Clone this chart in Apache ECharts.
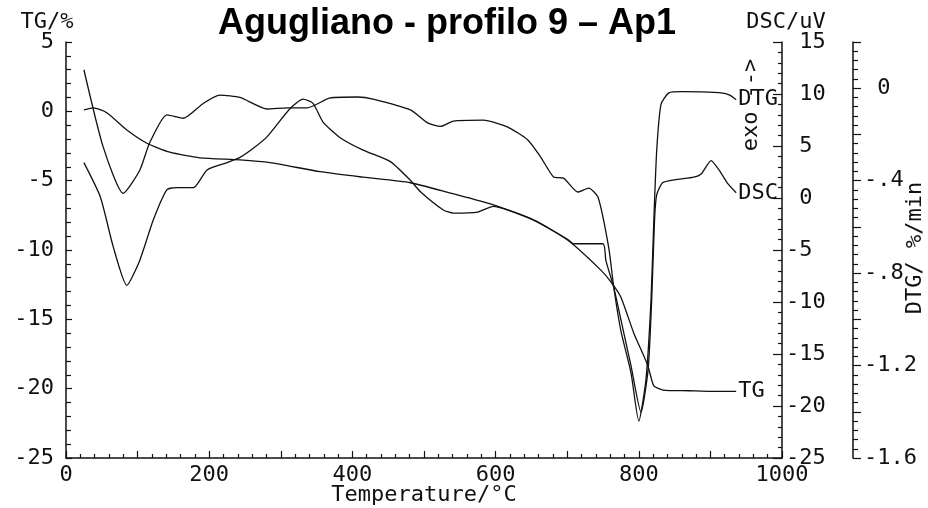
<!DOCTYPE html>
<html>
<head>
<meta charset="utf-8">
<title>Agugliano - profilo 9 – Ap1</title>
<script src="https://cdn.jsdelivr.net/npm/echarts@6/dist/echarts.min.js"></script>
<style>
  html, body { margin: 0; padding: 0; background: #fff; }
  #chart { width: 928px; height: 508px; }
</style>
</head>
<body>
<div id="chart"></div>
<script>
// TG curve (% mass), temperatures in °C
const tgTemp = [25, 38, 57, 85, 113, 145, 187, 243, 285, 355, 415, 481, 537, 597, 653, 701, 747, 761, 775, 793, 805, 813, 821, 834, 870, 901, 936]
const tgVal = [0.1, 0.25, -0.1, -1.35, -2.3, -2.95, -3.35, -3.5, -3.7, -4.35, -4.75, -5.15, -5.9, -6.75, -7.85, -9.3, -11.45, -12.3, -13.4, -16.0, -17.4, -18.4, -19.8, -20.1, -20.15, -20.2, -20.2]

// DSC curve (uV)
const dscTemp = [25, 48, 66, 85, 103, 122, 141, 155, 178, 197, 225, 243, 262, 281, 313, 331, 345, 359, 383, 415, 453, 481, 495, 527, 541, 575, 597, 617, 653, 677, 701, 709, 750, 754, 765, 775, 789, 803, 813, 818, 822, 825, 834, 877, 887, 901, 912, 924, 936]
const dscVal = [3.4, 0.1, -4.7, -8.4, -6.0, -2.1, 0.8, 1.0, 1.0, 2.7, 3.4, 3.9, 4.8, 5.9, 8.6, 9.5, 9.1, 7.3, 5.8, 4.6, 3.5, 1.7, 0.6, -1.15, -1.45, -1.35, -0.8, -1.15, -2.1, -3.0, -4.0, -4.4, -4.4, -6.0, -8.6, -11.7, -16.1, -20.6, -16.5, -9.8, -2.1, 0.3, 1.5, 2.0, 2.3, 3.6, 2.7, 1.4, 0.5]

// DTG curve (%/min)
const dtgTemp = [25, 52, 80, 103, 117, 141, 164, 192, 215, 243, 281, 309, 337, 369, 407, 429, 481, 505, 523, 541, 583, 617, 645, 663, 681, 695, 715, 730, 743, 758, 765, 775, 789, 800, 810, 817, 821, 825, 831, 842, 860, 887, 915, 927, 936]
const dtgVal = [0.08, -0.255, -0.455, -0.355, -0.235, -0.115, -0.13, -0.065, -0.03, -0.04, -0.09, -0.085, -0.085, -0.042, -0.038, -0.047, -0.094, -0.15, -0.165, -0.142, -0.138, -0.168, -0.224, -0.298, -0.384, -0.389, -0.449, -0.432, -0.471, -0.69, -0.86, -1.05, -1.23, -1.44, -1.26, -0.92, -0.57, -0.27, -0.07, -0.02, -0.015, -0.016, -0.02, -0.03, -0.05]

const mono = 'DejaVu Sans Mono'
const ink = '#111'

function zip(xs, ys) {
  return xs.map((x, i) => [x, ys[i]])
}

const axisLine = { show: true, onZero: false, lineStyle: { color: ink, width: 1.5 } }
const labelStyle = { fontFamily: mono, fontSize: 22, color: ink }
const endLabel = { show: true, formatter: '{a}', distance: 2, fontFamily: mono, fontSize: 22, color: ink }

function caption(text, x, y, rotated) {
  return {
    type: 'text',
    x: x,
    y: y,
    rotation: rotated ? Math.PI / 2 : 0,
    style: { text: text, fontFamily: mono, fontSize: 22, fill: ink, align: 'center', verticalAlign: 'middle' }
  }
}

const chart = echarts.init(document.getElementById('chart'), null, { renderer: 'canvas' })

const option = {
  animation: false,
  backgroundColor: '#fff',
  title: {
    text: 'Agugliano - profilo 9 – Ap1',
    left: 213,
    top: 1,
    textStyle: { fontFamily: 'Liberation Sans', fontWeight: 'bold', fontSize: 36, color: '#000' }
  },
  grid: {
    left: 66,
    right: 146,
    top: 42,
    bottom: 50,
    containLabel: false,
    outerBoundsMode: 'none'
  },
  xAxis: {
    type: 'value',
    min: 0,
    max: 1000,
    interval: 100,
    axisLine: axisLine,
    axisTick: { inside: true, length: 7, lineStyle: { color: ink, width: 1.2 } },
    minorTick: { show: true, splitNumber: 5, length: 4, lineStyle: { color: ink, width: 1.2 } },
    splitLine: { show: false },
    axisLabel: Object.assign({
      margin: 6,
      formatter: v => (v % 200 === 0 ? String(v) : '')
    }, labelStyle)
  },
  yAxis: [
    {
      // TG/%
      type: 'value',
      position: 'left',
      min: -25,
      max: 5,
      interval: 5,
      axisLine: axisLine,
      axisTick: { inside: true, length: 6, lineStyle: { color: ink, width: 1.2 } },
      minorTick: { show: true, splitNumber: 5, length: 5, lineStyle: { color: ink, width: 1.2 } },
      splitLine: { show: false },
      axisLabel: Object.assign({ margin: 12 }, labelStyle)
    },
    {
      // DSC/uV
      type: 'value',
      position: 'right',
      min: -25,
      max: 15,
      interval: 5,
      axisLine: axisLine,
      axisTick: { inside: true, length: 9, lineStyle: { color: ink, width: 1.2 } },
      minorTick: { show: true, splitNumber: 5, length: 4, lineStyle: { color: ink, width: 1.2 } },
      splitLine: { show: false },
      axisLabel: Object.assign({
        margin: 4,
        formatter: v => (v >= 0 ? ' ' : '') + v
      }, labelStyle)
    },
    {
      // DTG/ %/min
      type: 'value',
      position: 'right',
      offset: 71,
      min: -1.6,
      max: 0.2,
      interval: 0.2,
      axisLine: axisLine,
      axisTick: { inside: false, length: 8, lineStyle: { color: ink, width: 1.2 } },
      minorTick: { show: true, splitNumber: 5, length: 5, lineStyle: { color: ink, width: 1.2 } },
      splitLine: { show: false },
      axisLabel: Object.assign({
        margin: 11,
        formatter: v => {
          const k = Math.round(v * 10)
          if (k % 4 !== 0) return ''
          if (k === 0) return ' 0'
          const s = Math.abs(v).toFixed(1).replace(/^0/, '')
          return (v < 0 ? '-' : ' ') + s
        }
      }, labelStyle)
    }
  ],
  graphic: [
    caption('TG/%', 47, 22),
    caption('DSC/uV', 786, 22),
    caption('exo -->', 751, 105, true),
    caption('DTG/ %/min', 915, 248, true),
    caption('Temperature/°C', 424, 495)
  ],
  series: [
    {
      name: 'TG',
      type: 'line',
      yAxisIndex: 0,
      data: zip(tgTemp, tgVal),
      showSymbol: false,
      smooth: 0.2,
      lineStyle: { color: ink, width: 1.3 },
      endLabel: endLabel
    },
    {
      name: 'DSC',
      type: 'line',
      yAxisIndex: 1,
      data: zip(dscTemp, dscVal),
      showSymbol: false,
      smooth: 0.2,
      lineStyle: { color: ink, width: 1.3 },
      endLabel: endLabel
    },
    {
      name: 'DTG',
      type: 'line',
      yAxisIndex: 2,
      data: zip(dtgTemp, dtgVal),
      showSymbol: false,
      smooth: 0.2,
      lineStyle: { color: ink, width: 1.3 },
      endLabel: endLabel
    }
  ]
}

chart.setOption(option)
</script>
</body>
</html>
